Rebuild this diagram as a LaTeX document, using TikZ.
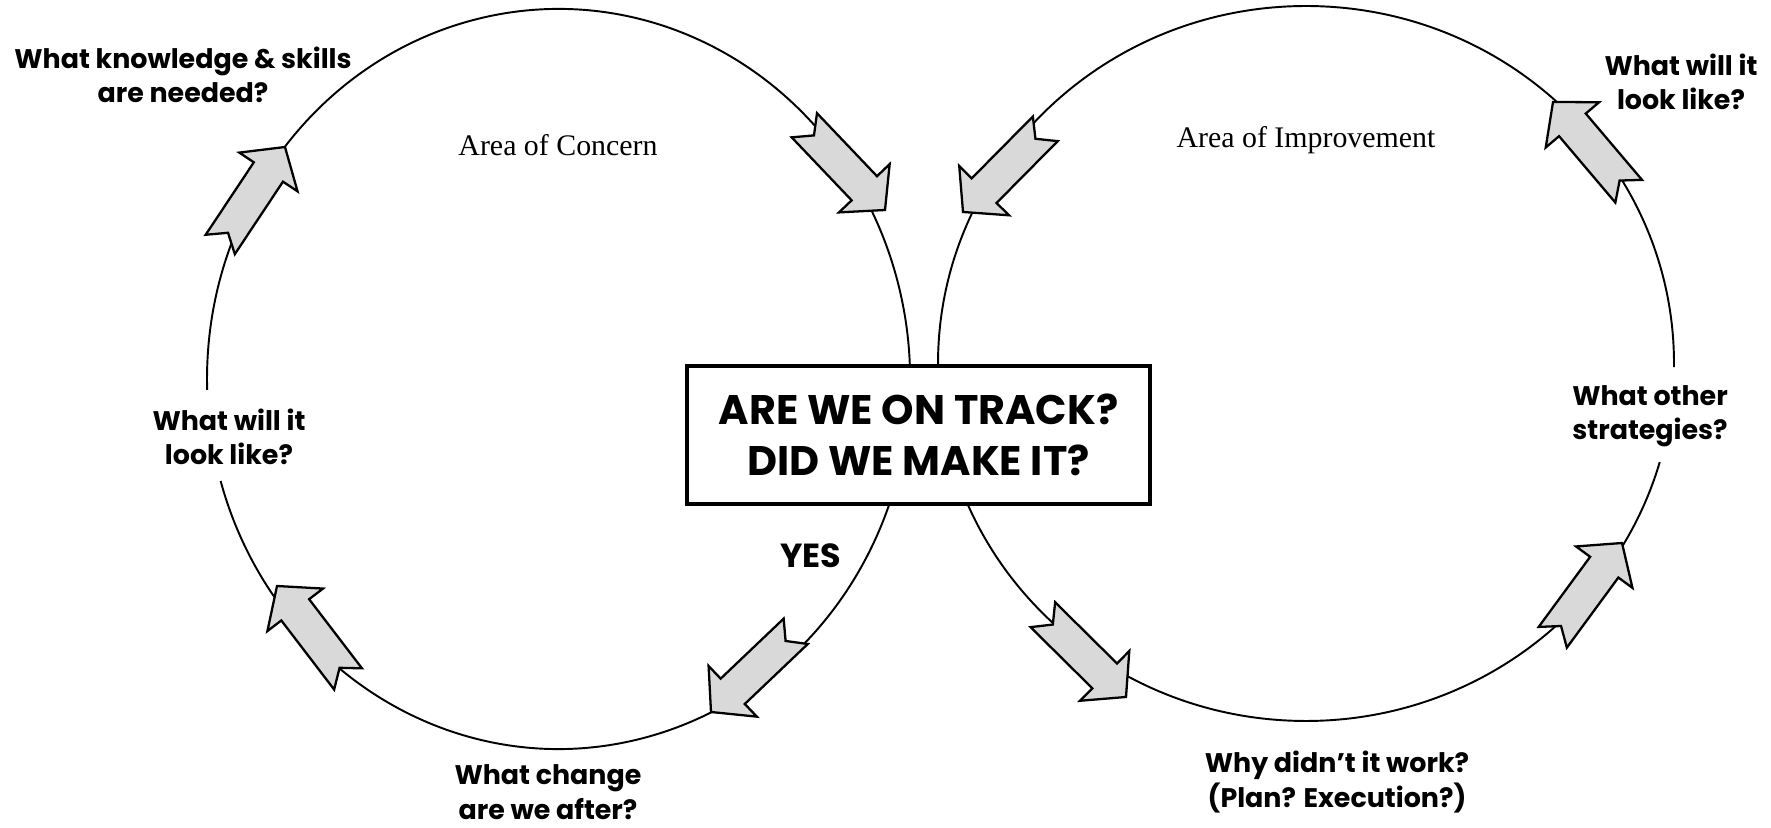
\documentclass[tikz,border=0pt]{standalone}
\usepackage{fontspec}
\newfontfamily\gothic{Poppins}
\newfontfamily\schbook{Liberation Serif}
\begin{document}
\begin{tikzpicture}[
    ring/.style={line width=1.1pt},
    qlabel/.style={font=\gothic\bfseries\fontsize{15.3}{19.6}\selectfont, align=center, inner sep=0pt},
    area/.style={font=\schbook\fontsize{17}{20}\selectfont, inner sep=0pt},
    bigbox/.style={draw, line width=2pt, fill=white, minimum width=9.26cm, minimum height=2.76cm,
        align=center, font=\gothic\bfseries\fontsize{23.5}{29}\selectfont},
    blockarrow/.style={draw, line width=1.3pt, fill=black!15, line join=miter}
]
\useasboundingbox (0,0) rectangle (35.42,16.54);

% 两个圈 (左边和右边各留一个缺口放文字)
\draw[ring] (11.17,8.96) ++(196:7.03 and 7.40) arc[start angle=196, end angle=541.7, x radius=7.03, y radius=7.40];
\draw[ring] (26.12,9.27) ++(-0.6:7.36 and 7.15) arc[start angle=-0.6, end angle=344, x radius=7.36, y radius=7.15];

% 圈上的箭头: 箭头尖位置 / 方向
\foreach \x/\y/\a in {5.70/13.60/56.4, 17.70/12.34/-46.4, 19.26/12.30/-134.7, 31.06/14.50/130.3,
                      5.54/4.82/127.4, 14.22/2.30/-136.4, 22.52/2.60/-44.7, 32.44/5.68/53.7} {
    \begin{scope}[shift={(\x,\y)}, rotate=\a]
        \draw[blockarrow] (0,0) -- (-0.6,0.7) -- (-0.6,0.35) -- (-2.34,0.35) -- (-2.06,0)
            -- (-2.34,-0.35) -- (-0.6,-0.35) -- (-0.6,-0.7) -- cycle;
    \end{scope}
}

% 中间的方框
\node[bigbox] (track) at (18.37,7.84) {ARE WE ON TRACK?\\DID WE MAKE IT?};

% 两个区域的名字
\node[area] (concern) at (11.16,13.64) {Area of Concern};
\node[area] (improve) at (26.12,13.74) {Area of Improvement};

% 问题
\node[qlabel] (skills) at (3.66,15.04) {What knowledge \& skills\\are needed?};
\node[qlabel] (lookleft) at (4.58,7.80) {What will it\\look like?};
\node[qlabel] (change) at (10.96,0.70) {What change\\are we after?};
\node[qlabel, font=\gothic\bfseries\fontsize{19}{20}\selectfont] (yes) at (16.22,5.42) {YES};
\node[qlabel] (whynot) at (26.74,0.90) {Why didn’t it work?\\(Plan? Execution?)};
\node[qlabel] (strategies) at (33.00,8.22) {What other\\strategies?};
\node[qlabel] (lookright) at (33.62,14.90) {What will it\\look like?};
\end{tikzpicture}
\end{document}
